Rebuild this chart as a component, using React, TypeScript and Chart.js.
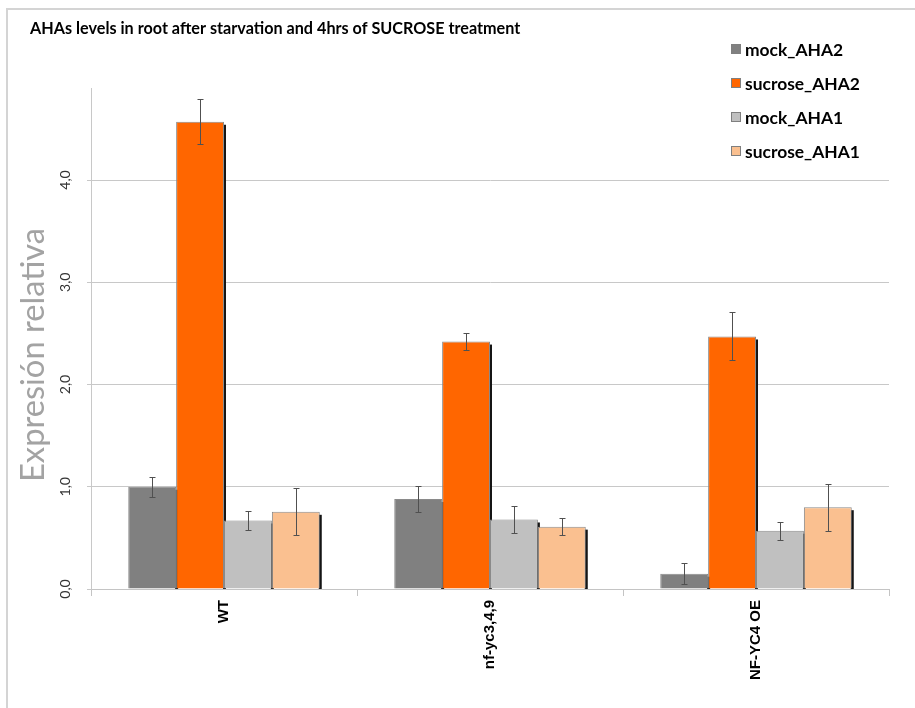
import React, { useEffect, useRef } from "react";
import { Chart, registerables } from "chart.js";

Chart.register(...registerables);

const chartTitle = "AHAs levels in root after starvation and 4hrs of SUCROSE treatment";
const yAxisTitle = "Expresión relativa";
const categories = ["WT", "nf-yc3,4,9", "NF-YC4 OE"];
const seriesNames = ["mock_AHA2", "sucrose_AHA2", "mock_AHA1", "sucrose_AHA1"];
const seriesColors = ["#808080", "#FF6600", "#C0C0C0", "#FAC090"];
const mockAHA2 = [1.0, 0.88, 0.15];
const sucroseAHA2 = [4.57, 2.42, 2.47];
const mockAHA1 = [0.67, 0.68, 0.57];
const sucroseAHA1 = [0.755, 0.61, 0.8];
const mockAHA2Err = [0.1, 0.13, 0.1];
const sucroseAHA2Err = [0.22, 0.08, 0.235];
const mockAHA1Err = [0.09, 0.13, 0.09];
const sucroseAHA1Err = [0.23, 0.08, 0.23];
const yTicks = [0, 1, 2, 3, 4];
const yMax = 4.9;

const seriesValues = [mockAHA2, sucroseAHA2, mockAHA1, sucroseAHA1];
const seriesErrors = [mockAHA2Err, sucroseAHA2Err, mockAHA1Err, sucroseAHA1Err];

const decorPlugin = {
  id: "decor",
  beforeDraw(chart: any) {
    const ctx = chart.ctx;
    ctx.save();
    ctx.fillStyle = "#ffffff";
    ctx.fillRect(0, 0, chart.width, chart.height);
    ctx.strokeStyle = "#d4d4d4";
    ctx.lineWidth = 2;
    ctx.beginPath();
    ctx.moveTo(7, chart.height);
    ctx.lineTo(7, 9);
    ctx.lineTo(chart.width, 9);
    ctx.stroke();
    ctx.restore();
  },
  beforeDatasetsDraw(chart: any) {
    const ctx = chart.ctx;
    const yScale = chart.scales.y;
    const base = yScale.getPixelForValue(0);
    ctx.save();
    ctx.fillStyle = "#151515";
    chart.data.datasets.forEach((ds: any, i: number) => {
      const meta = chart.getDatasetMeta(i);
      meta.data.forEach((bar: any) => {
        const right = bar.x + bar.width / 2;
        ctx.fillRect(right - 1, bar.y + 3, 3, base - bar.y - 3);
      });
    });
    ctx.restore();
  },
  afterDatasetsDraw(chart: any) {
    const ctx = chart.ctx;
    const yScale = chart.scales.y;
    ctx.save();
    ctx.strokeStyle = "#505050";
    ctx.lineWidth = 1;
    chart.data.datasets.forEach((ds: any, i: number) => {
      const meta = chart.getDatasetMeta(i);
      meta.data.forEach((bar: any, j: number) => {
        const v = seriesValues[i][j];
        const e = seriesErrors[i][j];
        const x = Math.round(bar.x) + 0.5;
        const yt = Math.round(yScale.getPixelForValue(v + e)) + 0.5;
        const yb = Math.round(yScale.getPixelForValue(v - e)) + 0.5;
        ctx.beginPath();
        ctx.moveTo(x, yt);
        ctx.lineTo(x, yb);
        ctx.moveTo(x - 3, yt);
        ctx.lineTo(x + 3, yt);
        ctx.moveTo(x - 3, yb);
        ctx.lineTo(x + 3, yb);
        ctx.stroke();
      });
    });
    ctx.restore();
  },
  afterDraw(chart: any) {
    const ctx = chart.ctx;
    ctx.save();
    // title
    ctx.fillStyle = "#000000";
    ctx.font = "bold 15px Lato";
    ctx.textAlign = "left";
    ctx.textBaseline = "alphabetic";
    const tw = ctx.measureText(chartTitle).width;
    const ts = 15 * 491 / tw;
    ctx.font = `bold ${ts.toFixed(2)}px Lato`;
    ctx.fillText(chartTitle, 30, 34);

    // y axis title
    ctx.save();
    ctx.font = "26px Lato";
    const yw = ctx.measureText(yAxisTitle).width;
    const ys = 26 * 254 / yw;
    ctx.font = `${ys.toFixed(2)}px Lato`;
    ctx.fillStyle = "#a3a3a3";
    ctx.translate(33, 355);
    ctx.rotate(-Math.PI / 2);
    ctx.textAlign = "center";
    ctx.textBaseline = "middle";
    ctx.fillText(yAxisTitle, 0, 0);
    ctx.restore();

    // legend
    ctx.font = "bold 15px Lato";
    const lw = ctx.measureText("sucrose_AHA2").width;
    const ls = 15 * 115 / lw;
    ctx.font = `bold ${ls.toFixed(2)}px Lato`;
    ctx.textBaseline = "middle";
    ctx.textAlign = "left";
    chart.data.datasets.forEach((ds: any, i: number) => {
      const cy = 49 + i * 34;
      ctx.fillStyle = ds.backgroundColor;
      ctx.fillRect(731, cy - 5, 10, 10);
      ctx.strokeStyle = "#7f7f7f";
      ctx.lineWidth = 1;
      ctx.strokeRect(731.5, cy - 4.5, 9, 9);
      ctx.fillStyle = "#000000";
      ctx.fillText(ds.label, 745, cy + 1);
    });
    ctx.restore();
  },
};

export default function App() {
  const ref = useRef<HTMLCanvasElement | null>(null);
  useEffect(() => {
    document.body.style.margin = "0";
    const canvas = ref.current;
    if (!canvas) return;
    const chart = new Chart(canvas, {
      type: "bar",
      data: {
        labels: categories,
        datasets: seriesNames.map((name, i) => ({
          label: name,
          data: seriesValues[i],
          backgroundColor: seriesColors[i],
          borderColor: "#8a8a8a",
          borderWidth: 1,
          categoryPercentage: 0.72,
          barPercentage: 1.0,
        })),
      },
      options: {
        animation: false,
        responsive: false,
        maintainAspectRatio: false,
        layout: { padding: { top: 88, right: 26, left: 0, bottom: 0 } },
        plugins: {
          legend: { display: false },
          title: { display: false },
          tooltip: { enabled: false },
        },
        scales: {
          x: {
            type: "category",
            grid: {
              offset: true,
              drawOnChartArea: false,
              drawTicks: true,
              tickLength: 7,
              color: "#c4c4c4",
            },
            border: { color: "#c4c4c4", width: 1 },
            ticks: {
              minRotation: 90,
              maxRotation: 90,
              autoSkip: false,
              padding: 4,
              color: "#000000",
              font: { family: "Liberation Sans, Arial", weight: "bold", size: 15 },
            },
            afterFit(scale: any) {
              scale.height = 119;
            },
          },
          y: {
            min: 0,
            max: yMax,
            afterBuildTicks(scale: any) {
              scale.ticks = yTicks.map((v) => ({ value: v }));
            },
            grid: {
              color: "#c8c8c8",
              tickLength: 4,
              lineWidth: 1,
            },
            border: { color: "#c8c8c8", width: 1 },
            ticks: {
              minRotation: 90,
              maxRotation: 90,
              crossAlign: "center",
              padding: 12,
              color: "#333333",
              font: { family: "Lato", size: 14 },
              callback(value: any) {
                return Number(value).toFixed(1).replace(".", ",");
              },
            },
            afterFit(scale: any) {
              scale.width = 91;
            },
          },
        },
      },
      plugins: [decorPlugin],
    } as any);
    return () => chart.destroy();
  }, []);
  return (
    <div style={{ width: 915, height: 708, position: "relative" }}>
      <canvas ref={ref} width={915} height={708} style={{ display: "block" }} />
    </div>
  );
}
